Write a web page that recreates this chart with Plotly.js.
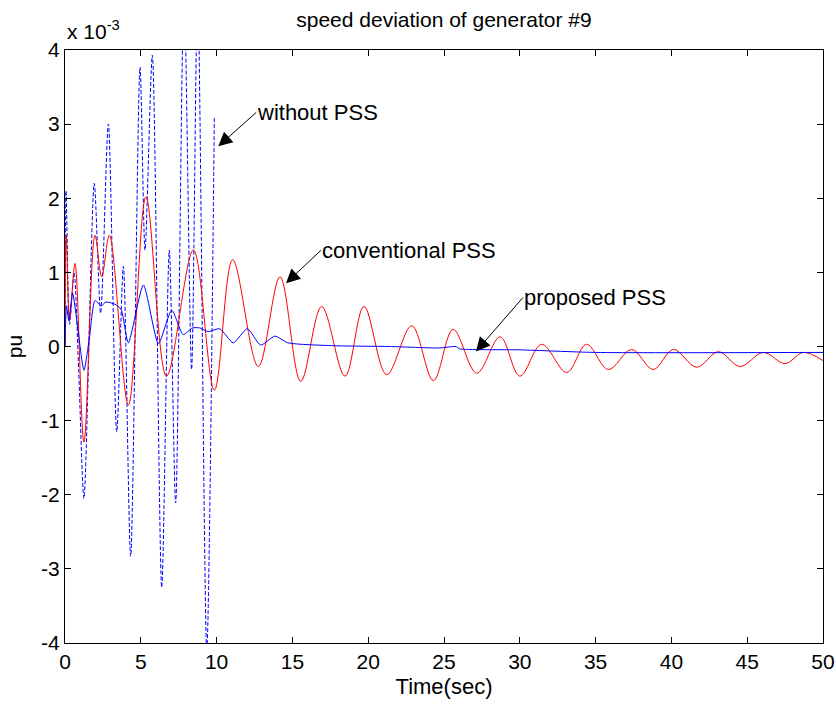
<!DOCTYPE html>
<html>
<head>
<meta charset="utf-8">
<script src="https://cdn.plot.ly/plotly-3.0.1.min.js"></script>
<style>html,body{margin:0;padding:0;background:#fff;}#chart{width:836px;height:706px;}</style>
</head>
<body>
<div id="chart"></div>
<script>
// values in units of 1e-3 pu
const tConv = [0,0.08,0.3,0.66,1.25,1.98,2.42,2.93,4.18,5.34,6.7,8.47,9.85,11.06,12.75,14.18,15.55,16.93,18.47,19.72,21.22,22.87,24.3,25.6,27.16,28.7,30.0,31.44,33.1,34.4,35.84,37.38,38.8,40.13,41.67,43.1,44.53,46.06,47.5,48.7,50];
const vConv = [0,1.5,0.35,1.12,-1.29,1.5,0.94,1.5,-0.79,2.02,-0.40,1.30,-0.59,1.17,-0.27,0.94,-0.47,0.54,-0.40,0.54,-0.38,0.28,-0.46,0.23,-0.36,0.13,-0.40,0.03,-0.35,0.03,-0.31,-0.04,-0.31,-0.04,-0.28,-0.07,-0.27,-0.08,-0.23,-0.08,-0.19];

const tProp = [0,0.1,0.25,0.5,0.75,1.25,1.6,1.98,2.4,2.7,3.3,3.7,4.18,5.17,6.16,7.04,7.8,8.4,8.9,9.45,10.2,11.1,12.03,12.9,13.85,14.7,17.9,21.4,24.7,25.8,26.0,30,35,50];
const vProp = [0,0.55,0.35,0.72,0.4,-0.32,0.1,0.62,0.55,0.6,0.57,0.5,0.05,0.83,0.04,0.49,0.16,0.25,0.25,0.2,0.24,0.05,0.24,0.02,0.14,0.05,0.01,0.0,-0.02,0.0,-0.03,-0.045,-0.08,-0.08];

const tNo = [0,0.07,0.3,0.6,0.9,1.25,1.93,2.35,2.86,3.41,3.85,4.33,4.95,5.28,5.76,6.38,6.88,7.3,7.85,8.35,8.75,9.35,9.85];
const vNo = [0,2.1,0.3,1.0,-0.3,-2.05,2.2,0.45,3.0,-1.15,1.08,-2.83,3.77,1.3,3.93,-3.25,1.3,-2.11,4.8,-0.31,4.8,-4.1,3.1];

const xTicks = [0,5,10,15,20,25,30,35,40,45,50];
const yTicks = [-4,-3,-2,-1,0,1,2,3,4];

const F = 'Liberation Sans, Arial, sans-serif';

const traces = [
  {x: tNo, y: vNo, mode: 'lines', line: {color: '#0000ff', width: 1, dash: '4px,2px', shape: 'spline', smoothing: 0.8}, hoverinfo: 'skip'},
  {x: tConv, y: vConv, mode: 'lines', line: {color: '#ff0000', width: 1, shape: 'spline', smoothing: 1}, hoverinfo: 'skip'},
  {x: tProp, y: vProp, mode: 'lines', line: {color: '#0000ff', width: 1, shape: 'spline', smoothing: 0.6}, hoverinfo: 'skip'}
];

const annLabel = (x, y, ax, ay, txt) => ({x: x, y: y, xref: 'x', yref: 'y', text: txt, showarrow: true, ax: ax, ay: ay,
  xanchor: 'left', yanchor: 'middle', borderpad: 0,
  arrowhead: 2, arrowsize: 2.8, arrowwidth: 1, arrowcolor: '#000', standoff: 0,
  font: {family: F, size: 22, color: '#000'}});

const layout = {
  width: 836, height: 706,
  margin: {l: 65, r: 13, t: 50, b: 62.5},
  paper_bgcolor: '#fff', plot_bgcolor: '#fff',
  showlegend: false,
  title: {text: 'speed deviation of generator #9', font: {family: F, size: 21, color: '#000'}, x: 0.531, xanchor: 'center', y: 1 - 20/706, yanchor: 'middle', yref: 'container'},
  xaxis: {range: [0, 50], tickvals: xTicks, ticktext: xTicks.map(String), ticks: 'inside', ticklen: 6, tickcolor: '#000',
    showline: true, linecolor: '#000', linewidth: 1, mirror: 'ticks', showgrid: false, zeroline: false,
    tickfont: {family: F, size: 21, color: '#000'},
    title: {text: 'Time(sec)', font: {family: F, size: 22, color: '#000'}, standoff: 6}},
  yaxis: {range: [-4, 4], tickvals: yTicks, ticktext: yTicks.map(String), ticks: 'inside', ticklen: 6, tickcolor: '#000',
    showline: true, linecolor: '#000', linewidth: 1, mirror: 'ticks', showgrid: false, zeroline: false,
    tickfont: {family: F, size: 21, color: '#000'},
    title: {text: 'pu', font: {family: F, size: 21, color: '#000'}, standoff: 12}},
  annotations: [
    {xref: 'paper', yref: 'paper', x: 0, y: 1, xanchor: 'left', yanchor: 'bottom', yshift: 5, showarrow: false,
      text: 'x 10<sup>-3</sup>', font: {family: F, size: 21, color: '#000'}},
    annLabel(10.11, 2.70, 38, -34, 'without PSS'),
    annLabel(14.58, 0.854, 35, -33, 'conventional PSS'),
    annLabel(27.11, -0.067, 47, -54, 'proposed PSS')
  ]
};

Plotly.newPlot('chart', traces, layout, {staticPlot: true, displayModeBar: false});
</script>
</body>
</html>
